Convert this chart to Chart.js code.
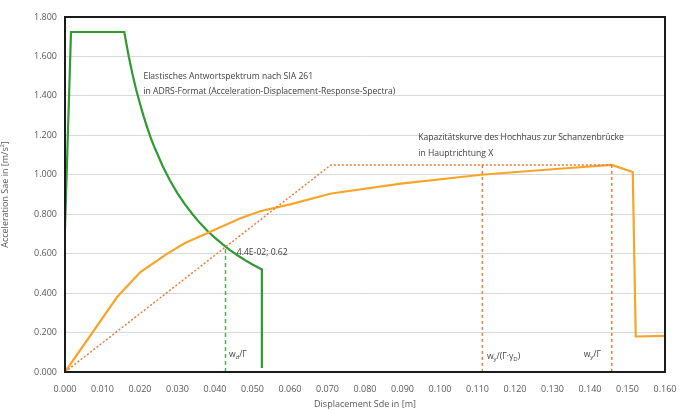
<!DOCTYPE html>
<html>
<head>
<meta charset="utf-8">
<script src="https://cdn.jsdelivr.net/npm/chart.js@4"></script>
<style>
  html, body { margin: 0; padding: 0; background: #fff; }
  #wrap { width: 690px; height: 410px; }
</style>
</head>
<body>
<div id="wrap"><canvas id="adrsChart"></canvas></div>
<script>
// Elastic response spectrum (ADRS), SIA 261
const spectrumSd = [0, 0.0016, 0.0158, 0.017, 0.018, 0.019, 0.020, 0.021, 0.022, 0.023, 0.024, 0.026, 0.028, 0.030, 0.032, 0.034, 0.036, 0.038, 0.040, 0.042, 0.044, 0.046, 0.048, 0.050, 0.0525, 0.0525];
const spectrumSa = [0.73, 1.724, 1.724, 1.60, 1.51, 1.43, 1.36, 1.295, 1.235, 1.18, 1.133, 1.046, 0.971, 0.906, 0.85, 0.80, 0.755, 0.715, 0.68, 0.648, 0.618, 0.592, 0.567, 0.545, 0.52, 0.02];

// Capacity curve of the building
const capacitySd = [0, 0.0139, 0.0201, 0.0273, 0.032, 0.038, 0.0468, 0.052, 0.060, 0.071, 0.0896, 0.111, 0.130, 0.1458, 0.1514, 0.1522, 0.160];
const capacitySa = [0, 0.38, 0.507, 0.60, 0.654, 0.705, 0.78, 0.815, 0.85, 0.905, 0.955, 1.0, 1.028, 1.05, 1.014, 0.18, 0.183];

// Bilinear idealisation (dotted)
const bilinearSd = [0, 0.0709, 0.1458];
const bilinearSa = [0, 1.05, 1.05];

// Vertical marker lines
const demandSd = [0.0428, 0.0428];
const demandSa = [0, 0.64];
const yieldGammaSd = [0.1113, 0.1113];
const yieldGammaSa = [1.05, 0];
const yieldSd = [0.1458, 0.1458];
const yieldSa = [1.05, 0];

const yTicks = [0, 0.2, 0.4, 0.6, 0.8, 1.0, 1.2, 1.4, 1.6, 1.8];

// text notes: [x, y, text]
const notes = [
    [0.0209, 1.50, 'Elastisches Antwortspektrum nach SIA 261'],
    [0.0209, 1.42, 'in ADRS-Format (Acceleration-Displacement-Response-Spectra)'],
    [0.0942, 1.187, 'Kapazitätskurve des Hochhaus zur Schanzenbrücke'],
    [0.0942, 1.11, 'in Hauptrichtung X'],
    [0.0458, 0.608, '4.4E-02; 0.62']
];
// marker labels with subscripts: [x, y, parts] where parts = [text, isSub]
const markerLabels = [
    [0.0437, 0.09, [['w', false], ['d', true], ['/Γ', false]]],
    [0.1125, 0.08, [['w', false], ['y', true], ['/(Γ·γ', false], ['D', true], [')', false]]],
    [0.1383, 0.09, [['w', false], ['y', true], ['/Γ', false]]]
];

const toPoints = (xs, ys) => xs.map((x, i) => ({ x, y: ys[i] }));

const GREEN = '#2f9a32';
const ORANGE = '#f7a52a';
const DOT = '#ec7a3a';
const FONT = '"Open Sans", "Liberation Sans", sans-serif';

const annotationPlugin = {
    id: 'notes',
    afterDatasetsDraw(chart) {
        const { ctx, chartArea, scales } = chart;
        ctx.save();
        ctx.fillStyle = '#404040';
        ctx.font = '8.6px ' + FONT;
        ctx.textBaseline = 'middle';
        ctx.textAlign = 'left';
        notes.forEach(([x, y, t]) => {
            ctx.fillText(t, scales.x.getPixelForValue(x), scales.y.getPixelForValue(y));
        });
        markerLabels.forEach(([x, y, parts]) => {
            let px = scales.x.getPixelForValue(x);
            const py = scales.y.getPixelForValue(y);
            parts.forEach(([t, sub]) => {
                ctx.font = (sub ? '6px ' : '8.6px ') + FONT;
                ctx.fillText(t, px, sub ? py + 3 : py);
                px += ctx.measureText(t).width;
            });
        });
        // black frame round the plot area
        ctx.strokeStyle = '#1a1a1a';
        ctx.lineWidth = 2;
        ctx.strokeRect(chartArea.left, chartArea.top, chartArea.right - chartArea.left, chartArea.bottom - chartArea.top);
        ctx.restore();
    }
};

new Chart(document.getElementById('adrsChart'), {
    type: 'scatter',
    data: {
        datasets: [
            {
                label: 'Bilinear',
                data: toPoints(bilinearSd, bilinearSa),
                borderColor: DOT, borderWidth: 1.5, borderDash: [2, 2]
            },
            {
                label: 'w/(Γ·γ)',
                data: toPoints(yieldGammaSd, yieldGammaSa),
                borderColor: DOT, borderWidth: 1.5, borderDash: [3, 3]
            },
            {
                label: 'w/Γ',
                data: toPoints(yieldSd, yieldSa),
                borderColor: DOT, borderWidth: 1.5, borderDash: [3, 3]
            },
            {
                label: 'Demand',
                data: toPoints(demandSd, demandSa),
                borderColor: '#4caf50', borderWidth: 1.5, borderDash: [4, 3]
            },
            {
                label: 'Kapazitätskurve',
                data: toPoints(capacitySd, capacitySa),
                borderColor: ORANGE, borderWidth: 2.2
            },
            {
                label: 'Antwortspektrum',
                data: toPoints(spectrumSd, spectrumSa),
                borderColor: GREEN, borderWidth: 2.2
            }
        ].map(d => Object.assign({ showLine: true, pointRadius: 0, fill: false, tension: 0 }, d))
    },
    options: {
        responsive: true,
        maintainAspectRatio: false,
        animation: false,
        layout: { padding: { left: 0, right: 25, top: 17, bottom: 0 } },
        plugins: {
            legend: { display: false },
            tooltip: { enabled: false }
        },
        scales: {
            x: {
                type: 'linear',
                min: 0, max: 0.16,
                afterFit: s => { s.height = 38; },
                grid: { display: false },
                border: { display: true, color: '#1a1a1a', width: 2 },
                ticks: {
                    stepSize: 0.01,
                    color: '#595959',
                    font: { family: FONT, size: 9 },
                    padding: 4,
                    maxRotation: 0,
                    autoSkip: false,
                    callback: v => v.toFixed(3)
                },
                title: {
                    display: true,
                    text: 'Displacement Sde in [m]',
                    color: '#595959',
                    font: { family: FONT, size: 9 },
                    padding: { top: 2, bottom: 0 }
                }
            },
            y: {
                type: 'linear',
                min: 0, max: 1.8,
                afterFit: s => { s.width = 65; },
                afterBuildTicks: s => { s.ticks = yTicks.map(v => ({ value: v })); },
                grid: { color: '#d9d9d9', lineWidth: 1, drawTicks: false },
                border: { display: true, color: '#1a1a1a', width: 2 },
                ticks: {
                    color: '#595959',
                    font: { family: FONT, size: 9 },
                    padding: 8,
                    callback: v => v.toFixed(3)
                },
                title: {
                    display: true,
                    text: 'Acceleration Sae in [m/s²]',
                    color: '#595959',
                    font: { family: FONT, size: 9 },
                    padding: { top: 0, bottom: 2 }
                }
            }
        }
    },
    plugins: [annotationPlugin]
});
</script>
</body>
</html>
